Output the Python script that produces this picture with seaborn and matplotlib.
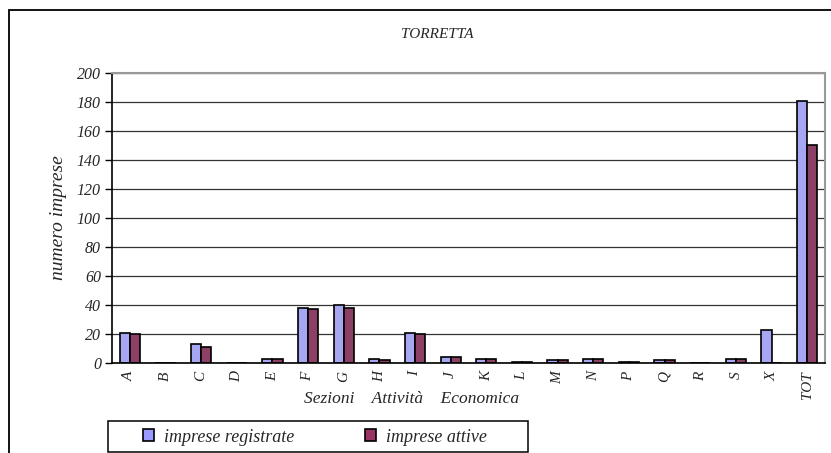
import pandas as pd
import seaborn as sns
import matplotlib.pyplot as plt
from matplotlib.patches import Rectangle
from matplotlib.ticker import MultipleLocator, FixedLocator

# --- Data ---
sezioni = ["A", "B", "C", "D", "E", "F", "G", "H", "I", "J",
           "K", "L", "M", "N", "P", "Q", "R", "S", "X", "TOT"]
registrate = [21, 0, 13, 0, 3, 38, 40, 3, 21, 4, 3, 1, 2, 3, 1, 2, 0, 3, 23, 181]
attive = [20, 0, 11, 0, 3, 37, 38, 2, 20, 4, 3, 1, 2, 3, 1, 2, 0, 3, 0, 150]
series = ["imprese registrate", "imprese attive"]
colors = ["#9999FF", "#993366"]

W, H, DPI = 831, 453, 100


def build_frame():
    """Long-format table for seaborn."""
    rows = []
    for s, r, a in zip(sezioni, registrate, attive):
        rows.append({"sezione": s, "serie": series[0], "valore": r})
        rows.append({"sezione": s, "serie": series[1], "valore": a})
    return pd.DataFrame(rows)


def main():
    df = build_frame()
    sns.set_style("white")
    plt.rcParams["font.family"] = ["Liberation Serif", "DejaVu Serif"]
    plt.rcParams["font.style"] = "italic"

    fig = plt.figure(figsize=(W / DPI, H / DPI), dpi=DPI)
    # axes in pixel coords: left 112, right 825, top 73, bottom 363
    ax = fig.add_axes([112 / W, 1 - 363 / H, (825 - 112) / W, (363 - 73) / H])

    sns.barplot(data=df, x="sezione", y="valore", hue="serie", palette=colors,
                width=0.57, edgecolor="black", linewidth=1.2, ax=ax, legend=False)

    ax.set_ylim(0, 200)
    ax.set_xlim(-0.5, len(sezioni) - 0.5)
    ax.yaxis.set_major_locator(MultipleLocator(20))
    ax.grid(axis="y", color="#333333", linewidth=0.9)
    ax.set_axisbelow(True)

    for side in ["left", "bottom"]:
        ax.spines[side].set_color("black")
        ax.spines[side].set_linewidth(1.2)
    for side in ["top", "right"]:
        ax.spines[side].set_color("#999999")
        ax.spines[side].set_linewidth(1.5)

    # ticks at category boundaries on x
    ax.tick_params(axis="x", which="major", length=0, pad=6)
    ax.xaxis.set_minor_locator(FixedLocator([i - 0.5 for i in range(len(sezioni) + 1)]))
    ax.tick_params(axis="x", which="minor", length=5, width=1, color="black", direction="out")
    ax.tick_params(axis="y", length=5, width=1, color="black", direction="out", left=True, pad=3)
    ax.set_xticks(range(len(sezioni)))
    ax.set_xticklabels(sezioni, rotation=90, fontsize=11, style="italic")
    for lbl in ax.get_yticklabels():
        lbl.set_fontsize(11.5)
        lbl.set_fontstyle("italic")

    ax.set_ylabel("numero imprese", fontsize=14, style="italic")
    ax.yaxis.set_label_coords(-(112 - 67) / (825 - 112), 0.5)
    ax.set_xlabel("Sezioni    Attività    Economica", fontsize=12.5, style="italic")
    ax.xaxis.set_label_coords(0.42, -0.098)

    fig.text(437 / W, 1 - 35 / H, "TORRETTA", ha="center", va="center",
             fontsize=11, style="italic")

    # legend (frame drawn separately, box runs to the bottom edge)
    handles = [Rectangle((0, 0), 1, 1, facecolor=c, edgecolor="black", linewidth=1.2)
               for c in colors]
    leg = fig.legend(handles, series, loc="center left",
                     bbox_to_anchor=(143 / W, 1 - 437 / H), ncol=2,
                     frameon=False, fontsize=13,
                     handlelength=0.62, handleheight=0.62,
                     handletextpad=0.55, columnspacing=3.9,
                     borderpad=0, borderaxespad=0)
    for t in leg.get_texts():
        t.set_fontstyle("italic")
    fig.patches.append(Rectangle((108 / W, 1 - 452 / H), (528 - 108) / W, 31 / H,
                                 transform=fig.transFigure, fill=False,
                                 edgecolor="black", linewidth=1.1))

    # outer chart frame (runs past the right and bottom edges)
    fig.patches.append(Rectangle((9 / W, -0.1), 1.2, 1.1 - 10 / H,
                                 transform=fig.transFigure, fill=False,
                                 edgecolor="black", linewidth=1.3))

    fig.savefig("out.png", dpi=DPI)
    plt.close(fig)


if __name__ == "__main__":
    main()
